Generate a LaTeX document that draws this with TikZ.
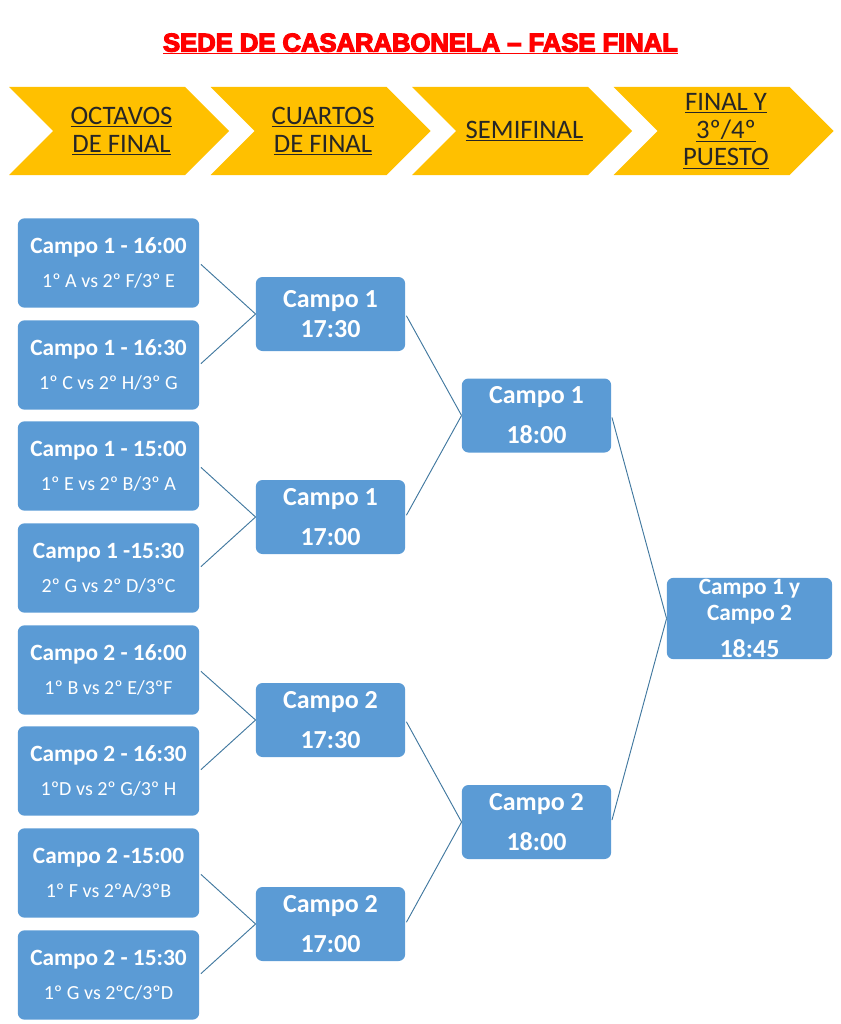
\documentclass[tikz,border=0pt]{standalone}
\usepackage{fontspec}
\setmainfont{Carlito}
\newfontfamily\titlefont[BoldFeatures = {FakeBold = 5}]{Liberation Sans}
\definecolor{caja}{HTML}{5B9BD5}
\definecolor{flecha}{HTML}{FFC000}
\definecolor{linea}{HTML}{41789F}
\definecolor{rojo}{HTML}{FF0000}
\tikzset{
  caja/.style = {draw = none, fill = caja, rounded corners = 5pt, text = white, align = center, inner sep = 0pt},
  octavos/.style = {caja, minimum width = 136pt, minimum height = 67pt},
  ronda/.style = {caja, minimum width = 112pt, minimum height = 55.5pt},
  conector/.style = {draw = linea, line width = .7pt, shorten < = 1.5pt},
  fase/.style = {align = center, text = black!85, inner sep = 0pt}
}
\newcommand{\txtfase}[1]{\fontsize{20}{21}\selectfont\underline{#1}}
\newcommand{\txthora}[1]{\fontsize{17.5}{21}\selectfont\bfseries #1}
\newcommand{\txtpartido}[1]{\fontsize{15}{18}\selectfont #1}
\newcommand{\txtronda}[1]{\fontsize{19.5}{22}\selectfont\bfseries #1}
\begin{document}
\begin{tikzpicture}[x = .75pt, y = -.75pt]
  \useasboundingbox (0, 0) rectangle (841, 1024);
  \node[inner sep = 0pt, text = rojo] (titulo) at (420.5, 44)
    {\titlefont\bfseries\fontsize{19.2}{22}\selectfont\underline{SEDE DE CASARABONELA – FASE FINAL}};
  \foreach \x/\nombre/\fasetexto in {9/oct/{\txtfase{OCTAVOS}\\[5.25pt]\txtfase{DE FINAL}}, 210.5/cua/{\txtfase{CUARTOS}\\[5.25pt]\txtfase{DE FINAL}}, 412/sem/{\txtfase{SEMIFINAL}}, 613.5/fin/{\txtfase{FINAL Y}\\[4pt]\txtfase{3º/4º}\\[4pt]\txtfase{PUESTO}}} {
    \fill[flecha] (\x, 87)--({\x + 176}, 87)--({\x + 220}, 131)--({\x + 176}, 175)--(\x, 175)--({\x + 44}, 131)--cycle;
    \node[fase] (\nombre) at ({\x + 112.5}, 131) {\fasetexto};
  }
  \foreach \i/\ypos/\hora/\partido in {
    1/263/Campo 1 - 16:00/{1º A vs 2º F/3º E},
    2/365/Campo 1 - 16:30/{1º C vs 2º H/3º G},
    3/466/Campo 1 - 15:00/{1º E vs 2º B/3º A},
    4/568/Campo 1 -15:30/{2º G vs 2º D/3ºC},
    5/670/Campo 2 - 16:00/{1º B vs 2º E/3ºF},
    6/771/Campo 2 - 16:30/{1ºD vs 2º G/3º H},
    7/873/Campo 2 -15:00/{1º F vs 2ºA/3ºB},
    8/975/Campo 2 - 15:30/{1º G vs 2ºC/3ºD}}
    \node[octavos] (oct\i) at (108.5, \ypos) {\txthora{\hora}\\[11.25pt]\txtpartido{\partido}};
  \foreach \i/\ypos/\campo/\hora/\salto in {1/314/Campo 1/17:30/5.25pt, 2/517/Campo 1/17:00/13.25pt, 3/720/Campo 2/17:30/13.25pt, 4/924/Campo 2/17:00/13.25pt}
    \node[ronda] (cua\i) at (330.5, \ypos) {\txtronda{\campo}\\[\salto]\txtronda{\hora}};
  \foreach \i/\ypos/\campo in {1/415.5/Campo 1, 2/822/Campo 2}
    \node[ronda] (sem\i) at (536.5, \ypos) {\txtronda{\campo}\\[12.5pt]\txtronda{18:00}};
  \node[caja, minimum width = 124pt, minimum height = 61pt] (final) at (749.5, 618.5)
    {\fontsize{17.5}{19.5}\selectfont\bfseries Campo 1 y\\[3.75pt]\fontsize{17.5}{19.5}\selectfont\bfseries Campo 2\\[10.5pt]\txtronda{18:45}};
  \foreach \a/\b in {1/1, 2/1, 3/2, 4/2, 5/3, 6/3, 7/4, 8/4}
    \draw[conector] (oct\a.east)--(cua\b.west);
  \foreach \a/\b in {1/1, 2/1, 3/2, 4/2}
    \draw[conector] (cua\a.east)--(sem\b.west);
  \foreach \a in {1, 2}
    \draw[conector] (sem\a.east)--(final.west);
\end{tikzpicture}
\end{document}
